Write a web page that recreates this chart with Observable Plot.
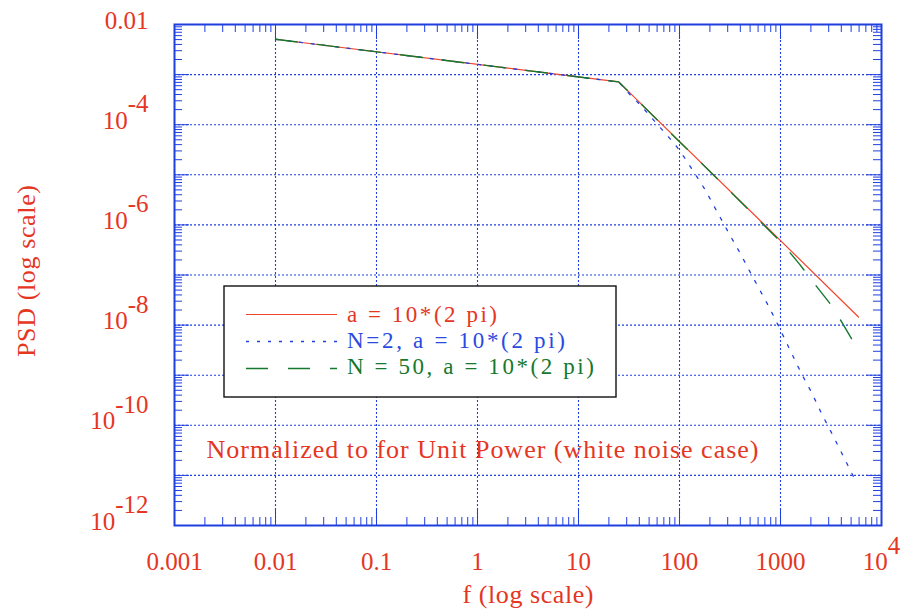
<!DOCTYPE html>
<html><head><meta charset="utf-8">
<script src="https://cdn.jsdelivr.net/npm/d3@7"></script>
<script src="https://cdn.jsdelivr.net/npm/@observablehq/plot@0.6"></script>
<style>
body{margin:0;background:#fff;}
#chart{width:904px;height:613px;}
</style></head><body><div id="chart"></div>
<script>
// ---- data ----
const redF = [0.01, 25, 5915];
const redP = [5.08e-3, 7.14e-4, 1.45e-8];

const blueF = [0.01, 25, 32.9, 41.3, 51.1, 63.7, 76.9, 93.1, 110.9, 132, 179, 233, 309, 404, 527, 771, 968, 1245, 1585, 2023, 2541, 3266, 4102, 5559];
const blueP = [5.08e-3, 7.14e-4, 3.85e-4, 2.44e-4, 1.48e-4, 9.0e-5, 5.87e-5, 3.72e-5, 2.27e-5, 1.33e-5, 5.07e-6, 1.91e-6, 6.76e-7, 2.59e-7, 9.4e-8, 2.29e-8, 9.1e-9, 3.16e-9, 1.15e-9, 4.59e-10, 1.75e-10, 6.56e-11, 2.62e-11, 7.67e-12];

const greenF = [0.01, 25, 100, 316, 1045, 1528, 2234, 3097, 4046, 5047];
const greenP = [5.08e-3, 7.14e-4, 4.59e-5, 4.70e-6, 4.23e-7, 1.69e-7, 6.21e-8, 2.68e-8, 1.15e-8, 5.36e-9];

const seriesLabels = ["a = 10*(2 pi)", "N=2, a = 10*(2 pi)", "N = 50, a = 10*(2 pi)"];

const xTicks = [1e-3, 1e-2, 1e-1, 1, 10, 100, 1000, 1e4];
const xTickLabels = ["0.001", "0.01", "0.1", "1", "10", "100", "1000", "10^4"];
const yTicks = [1e-2, 1e-4, 1e-6, 1e-8, 1e-10, 1e-12];
const yTickLabels = ["0.01", "10^-4", "10^-6", "10^-8", "10^-10", "10^-12"];

const xTitle = "f (log scale)";
const yTitle = "PSD (log scale)";
const annotation = "Normalized to for Unit Power (white noise case)";

// ---- styling ----
const BLUE = "#1f3fe0";
const RED_TEXT = "#e5361f";
const RED_LINE = "#f0462d";
const BLUE_TEXT = "#2a4ae0";
const GREEN = "#16782c";
const FONT = "'Liberation Serif', 'DejaVu Serif', serif";

const W = 904, H = 613;
const mL = 174, mR = 23, mT = 24, mB = 88;
const FW = W - mL - mR, FH = H - mT - mB;

const red = redF.map((f, i) => ({f, p: redP[i]}));
const blue = blueF.map((f, i) => ({f, p: blueP[i]}));
const green = greenF.map((f, i) => ({f, p: greenP[i]}));

const decX = d3.range(-2, 4).map(k => 10 ** k);
const decY = d3.range(-11, -2).map(k => 10 ** k);
const minorX = d3.range(-3, 4).flatMap(k => d3.range(2, 10).map(m => m * 10 ** k));
const minorY = d3.range(-12, -2).flatMap(k => d3.range(2, 10).map(m => m * 10 ** k));

const xFmt = d => { const i = xTicks.indexOf(d); return i >= 0 ? xTickLabels[i] : ""; };
const yFmt = d => { const i = yTicks.indexOf(d); return i >= 0 ? yTickLabels[i] : ""; };

const tickStyle = {stroke: BLUE, strokeWidth: 1};

const plot = Plot.plot({
  width: W, height: H,
  marginLeft: mL, marginRight: mR, marginTop: mT, marginBottom: mB,
  style: {fontFamily: FONT, fontSize: "25px", color: RED_TEXT, background: "white", overflow: "visible"},
  x: {type: "log", domain: [1e-3, 1e4]},
  y: {type: "log", domain: [1e-12, 1e-2]},
  marks: [
    // grid
    Plot.ruleX(decX, {x: d => d, stroke: BLUE, strokeWidth: 1.1, strokeDasharray: "2,2"}),
    Plot.ruleY(decY, {y: d => d, stroke: BLUE, strokeWidth: 1.1, strokeDasharray: "2,2"}),
    // minor ticks (inside, all four sides)
    Plot.ruleX(minorX, {x: d => d, insetTop: FH - 8, ...tickStyle}),
    Plot.ruleX(minorX, {x: d => d, insetBottom: FH - 8, ...tickStyle}),
    Plot.ruleY(minorY, {y: d => d, insetRight: FW - 8, ...tickStyle}),
    Plot.ruleY(minorY, {y: d => d, insetLeft: FW - 8, ...tickStyle}),
    // major ticks
    Plot.ruleX(decX, {x: d => d, insetTop: FH - 15, ...tickStyle}),
    Plot.ruleX(decX, {x: d => d, insetBottom: FH - 15, ...tickStyle}),
    Plot.ruleY(decY, {y: d => d, insetRight: FW - 15, ...tickStyle}),
    Plot.ruleY(decY, {y: d => d, insetLeft: FW - 15, ...tickStyle}),
    Plot.frame({stroke: BLUE, strokeWidth: 2}),
    // axes
    Plot.axisX({ticks: xTicks, tickSize: 0, tickPadding: 27, tickFormat: xFmt, label: null, fill: RED_TEXT}),
    Plot.axisY({ticks: yTicks, tickSize: 0, tickPadding: 26, tickFormat: yFmt, label: null, fill: RED_TEXT, dy: -4}),
    // data
    Plot.line(red, {x: "f", y: "p", stroke: RED_LINE, strokeWidth: 1.2}),
    Plot.line(blue, {x: "f", y: "p", stroke: BLUE, strokeWidth: 1.3, strokeDasharray: "3,9"}),
    Plot.line(green, {x: "f", y: "p", stroke: GREEN, strokeWidth: 1.4, strokeDasharray: "22,20"}),
    // titles
    Plot.text([xTitle], {text: d => d, frameAnchor: "bottom", dy: 77, fill: RED_TEXT, fontSize: 26}),
    Plot.text([yTitle], {text: d => d, frameAnchor: "left", textAnchor: "middle", dx: -148, dy: -4, rotate: -90, fill: RED_TEXT, fontSize: 26}),
    Plot.text([annotation], {text: d => d, frameAnchor: "bottom-left", textAnchor: "start", dx: 32, dy: -68, fill: RED_TEXT, fontSize: 26})
  ]
});

// superscripts in tick labels (e.g. 10^-4)
plot.querySelectorAll("text").forEach(t => {
  const s = t.textContent;
  if (s.includes("^")) {
    const [base, exp] = s.split("^");
    t.textContent = base;
    const ts = document.createElementNS("http://www.w3.org/2000/svg", "tspan");
    ts.setAttribute("dy", "-0.66em");
    ts.textContent = exp;
    t.appendChild(ts);
  }
});

// widen texts to the reference's (Computer Modern) widths
const textWidths = new Map([[annotation, 552], [xTitle, 131], [yTitle, 172]]);
plot.querySelectorAll("text").forEach(t => {
  const w = textWidths.get(t.textContent);
  if (w) { t.setAttribute("textLength", w); t.setAttribute("lengthAdjust", "spacing"); }
});

// legend box inside the plot
const svg = d3.select(plot);
const lg = svg.append("g").attr("font-family", FONT).attr("font-size", 23).attr("text-anchor", "start");
lg.append("rect").attr("x", 224).attr("y", 286).attr("width", 392).attr("height", 111)
  .attr("fill", "white").attr("stroke", "#111").attr("stroke-width", 1.4);
const legendStyles = [
  {stroke: RED_LINE, dash: null, text: RED_TEXT, w: 1.2, len: 150},
  {stroke: BLUE, dash: "3,8", text: BLUE_TEXT, w: 1.3, len: 218},
  {stroke: GREEN, dash: "22,20", text: GREEN, w: 1.4, len: 247}
];
seriesLabels.forEach((lab, i) => {
  const st = legendStyles[i];
  const yl = 314.5 + i * 27;
  const ln = lg.append("line").attr("x1", 246).attr("x2", 337).attr("y1", yl).attr("y2", yl)
    .attr("stroke", st.stroke).attr("stroke-width", st.w);
  if (st.dash) ln.attr("stroke-dasharray", st.dash);
  lg.append("text").attr("x", 347).attr("y", 322 + i * 26).attr("fill", st.text)
    .attr("textLength", st.len).attr("lengthAdjust", "spacing").text(lab);
});

document.getElementById("chart").appendChild(plot);
</script>
</body></html>
